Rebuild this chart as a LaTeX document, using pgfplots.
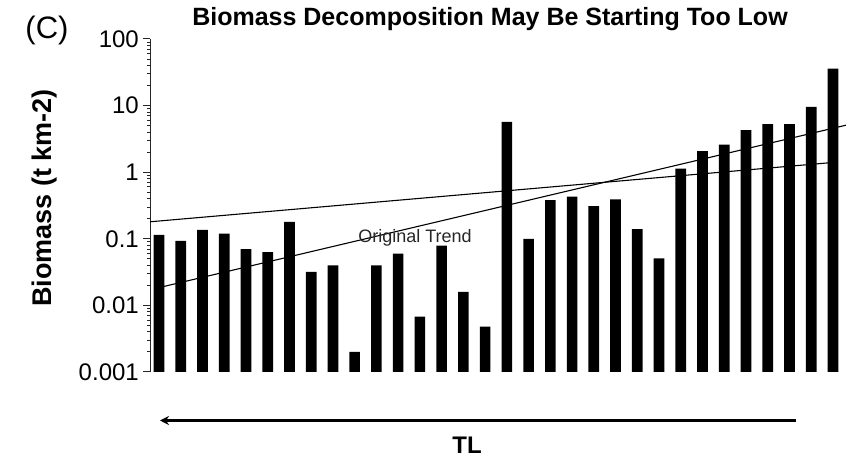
\documentclass[border=0pt]{standalone}
\usepackage{pgfplots}
\pgfplotsset{compat=1.18}
\usepackage{fontspec}
\setmainfont{Liberation Sans}
\usetikzlibrary{arrows.meta}
\begin{document}
\begin{tikzpicture}[x=1bp,y=1bp]
\useasboundingbox (0,0) rectangle (846,459);
\begin{axis}[
  at={(150bp,87bp)}, anchor=south west,
  scale only axis, width=696bp, height=333bp,
  xmin=0.586, xmax=32.6,
  ymode=log, ymin=0.001, ymax=100,
  log origin y=infty,
  axis x line=none,
  axis y line*=left,
  xtick=\empty,
  ytick={0.001,0.01,0.1,1,10,100},
  yticklabels={0.001,0.01,0.1,1,10,100},
  minor ytick={},
  tick align=outside,
  major tick length=7bp,
  y axis line style={line width=1bp, black!85},
  ytick style={line width=1bp, black!85},
  /pgf/number format/assume math mode=true,
  yticklabel style={font=\fontsize{24bp}{28bp}\selectfont, inner sep=1bp, xshift=-3bp},
]
\addplot[ybar, bar width=0.49, fill=black, draw=none] coordinates {
(1,0.115) (2,0.093) (3,0.136) (4,0.12) (5,0.07) (6,0.063) (7,0.18) (8,0.032)
(9,0.04) (10,0.002) (11,0.04) (12,0.06) (13,0.0068) (14,0.079) (15,0.016) (16,0.0048)
(17,5.7) (18,0.1) (19,0.38) (20,0.43) (21,0.31) (22,0.39) (23,0.14) (24,0.051)
(25,1.13) (26,2.07) (27,2.6) (28,4.27) (29,5.25) (30,5.25) (31,9.6) (32,36)
};
\addplot[black, line width=1.1bp, sharp plot, mark=none] coordinates {(0.586,0.18) (31.78,1.38)};
\addplot[black, line width=1.1bp, sharp plot, mark=none] coordinates {(1,0.0185) (32.6,5.08)};
\end{axis}
\node[anchor=base, font=\bfseries\fontsize{25bp}{29bp}\selectfont] at (490,433) {Biomass Decomposition May Be Starting Too Low};
\node[anchor=base, font=\fontsize{31bp}{36bp}\selectfont] at (47,420) {(C)};
\node[rotate=90, anchor=base, font=\bfseries\fontsize{27bp}{31bp}\selectfont] at (51,261) {Biomass (t km-2)};
\node[anchor=base, font=\fontsize{18bp}{20bp}\selectfont, text=black!85] at (415,216) {Original Trend};
\draw[line width=3bp, -{Stealth[length=9bp,width=9bp]}] (796,38.5) -- (160,38.5);
\node[anchor=base, font=\bfseries\fontsize{24bp}{28bp}\selectfont] at (467,5) {TL};
\end{tikzpicture}
\end{document}
